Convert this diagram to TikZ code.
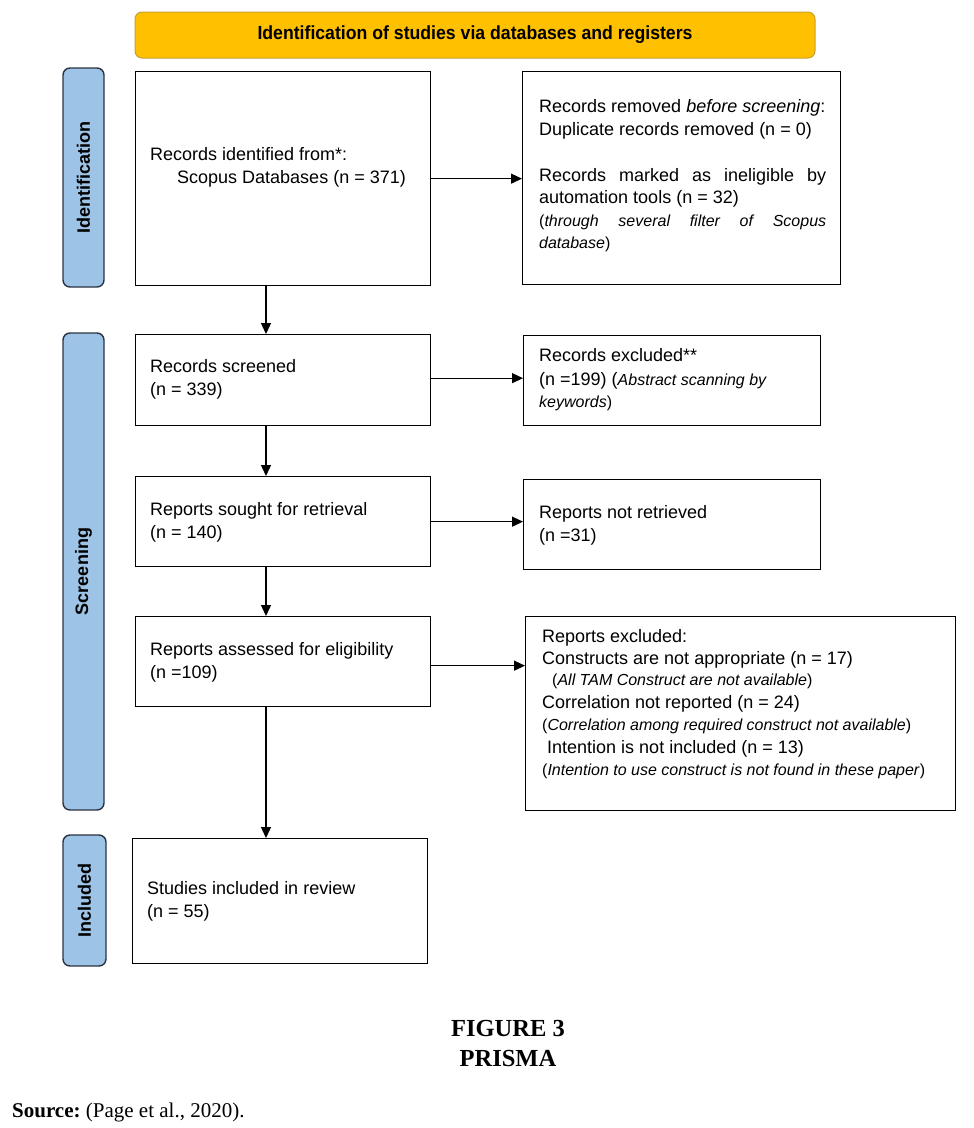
\documentclass[tikz,border=0pt]{standalone}
\usepackage{fontspec}
\setmainfont{Liberation Sans}
\newfontfamily\capfont{Liberation Serif}
\newfontfamily\hdrfont[FakeStretch=0.93]{Liberation Sans}
\usetikzlibrary{arrows.meta}
\definecolor{hdrfill}{HTML}{FFC000}
\definecolor{hdrline}{HTML}{C9A030}
\definecolor{barfill}{HTML}{9DC3E6}
\definecolor{barline}{HTML}{2B3440}
\begin{document}
\begin{tikzpicture}[x=1pt,y=-1pt,
  box/.style={draw=black, line width=1.3pt, rectangle, inner sep=0pt, anchor=north west},
  sidebar/.style={draw=barline, fill=barfill, line width=1.4pt, rounded corners=7pt, rotate=90,
    font=\bfseries\fontsize{18}{18}\selectfont, inner sep=0pt},
  txt/.style={anchor=base west, inner sep=0pt, font=\fontsize{18}{23}\selectfont},
  itx/.style={anchor=base west, inner sep=0pt, font=\fontsize{16}{20}\selectfont},
  arr/.style={-{Triangle[length=11pt,width=10pt]}, line width=1.3pt}]
\useasboundingbox (0,0) rectangle (974,1128);

% header
\node[draw=hdrline, fill=hdrfill, rounded corners=7pt, line width=1pt,
  minimum width=680pt, minimum height=46pt,
  font=\hdrfont\bfseries\fontsize{19}{19}\selectfont] (hdr) at (475,35)
  {Identification of studies via databases and registers};

% side bars
\node[sidebar, minimum width=219pt, minimum height=41pt] (sid) at (83.5,177.5) {Identification};
\node[sidebar, minimum width=477pt, minimum height=41pt] (ssc) at (83.5,571.5) {Screening};
\node[sidebar, minimum width=131pt, minimum height=43pt] (sin) at (84.5,900.5) {Included};

% left boxes
\node[box, minimum width=295pt, minimum height=214pt] (b1) at (135,71) {};
\node[box, minimum width=295pt, minimum height=91pt] (b2) at (135,334) {};
\node[box, minimum width=295pt, minimum height=90pt] (b3) at (135,476) {};
\node[box, minimum width=295pt, minimum height=90pt] (b4) at (135,616) {};
\node[box, minimum width=295pt, minimum height=125pt] (b5) at (132,838) {};

% right boxes
\node[box, minimum width=318pt, minimum height=213pt] (r1) at (522,71) {};
\node[box, minimum width=297pt, minimum height=90pt] (r2) at (523,335) {};
\node[box, minimum width=297pt, minimum height=90pt] (r3) at (523,479) {};
\node[box, minimum width=430pt, minimum height=194pt] (r4) at (525,616) {};

% texts, left column
\node[txt] (t1a) at (150,160) {Records identified from*:};
\node[txt] (t1b) at (177,183) {Scopus Databases (n = 371)};
\node[txt] (t2a) at (150,372) {Records screened};
\node[txt] (t2b) at (150,395) {(n = 339)};
\node[txt] (t3a) at (150,515) {Reports sought for retrieval};
\node[txt] (t3b) at (150,538) {(n = 140)};
\node[txt] (t4a) at (150,655) {Reports assessed for eligibility};
\node[txt] (t4b) at (150,678) {(n =109)};
\node[txt] (t5a) at (147,894) {Studies included in review};
\node[txt] (t5b) at (147,917) {(n = 55)};

% texts, right column
\node[txt] (u1a) at (539,112) {Records removed \textit{before screening}:};
\node[txt] (u1b) at (539,135) {Duplicate records removed (n = 0)};
\node[txt] (u1c) at (539,181) {\makebox[287pt][s]{Records marked as ineligible by}};
\node[txt] (u1d) at (539,203) {automation tools (n = 32)};
\node[itx] (u1e) at (539,226) {\makebox[287pt][s]{(\textit{through several filter of Scopus}}};
\node[itx] (u1f) at (539,248) {\textit{database})};

\node[txt] (u2a) at (539,361) {Records excluded**};
\node[txt] (u2b) at (539,385) {(n =199) ({\fontsize{16}{20}\selectfont\itshape Abstract scanning by}};
\node[itx] (u2c) at (539,407) {\textit{keywords})};

\node[txt] (u3a) at (539,518) {Reports not retrieved};
\node[txt] (u3b) at (539,541) {(n =31)};

\node[txt] (u4a) at (542,642) {Reports excluded:};
\node[txt] (u4b) at (542,664) {Constructs are not appropriate (n = 17)};
\node[itx] (u4c) at (552,685) {(\textit{All TAM Construct are not available})};
\node[txt] (u4d) at (542,708) {Correlation not reported (n = 24)};
\node[itx] (u4e) at (542,730) {(\textit{Correlation among required construct not available})};
\node[txt] (u4f) at (547,753) {Intention is not included (n = 13)};
\node[itx] (u4g) at (542,775) {(\textit{Intention to use construct is not found in these paper})};

% connectors
\coordinate (ax) at (266,0);
\draw[arr] (b1.south -| ax) -- (b2.north -| ax);
\draw[arr] (b2.south -| ax) -- (b3.north -| ax);
\draw[arr] (b3.south -| ax) -- (b4.north -| ax);
\draw[arr] (b4.south -| ax) -- (b5.north -| ax);
\draw[arr] (b1.east) -- (b1.east -| r1.west);
\draw[arr] ([yshift=2pt]b2.east) -- ([yshift=2pt]b2.east -| r2.west);
\draw[arr] (b3.east) -- (b3.east -| r3.west);
\draw[arr] ([yshift=-4pt]b4.east) -- ([yshift=-4pt]b4.east -| r4.west);

% caption
\node[font=\capfont\bfseries\fontsize{24.5}{29}\selectfont, anchor=base] (fig) at (508,1036) {FIGURE 3};
\node[font=\capfont\bfseries\fontsize{24.5}{29}\selectfont, anchor=base] (pri) at (508,1066) {PRISMA};
\node[font=\capfont\fontsize{21}{25}\selectfont, anchor=base west, inner sep=0pt] (src) at (12,1117)
  {\textbf{Source:}~(Page et al., 2020).};
\end{tikzpicture}
\end{document}
